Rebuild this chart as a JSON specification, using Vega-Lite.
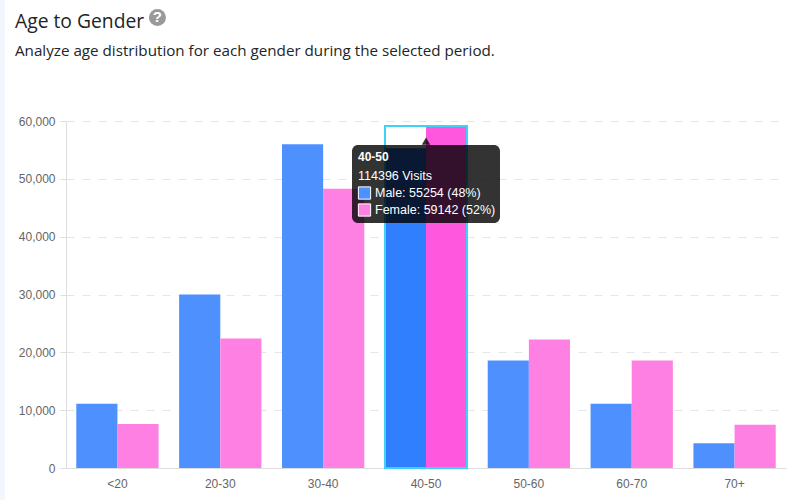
{
"$schema":"https://vega.github.io/schema/vega-lite/v6.json",
"width":720,"height":347,
"autosize":{"type":"none"},
"padding":{"left":66,"top":121,"right":14,"bottom":32},
"background":"#ffffff",
"view":{"stroke":null},
"title":{"text":"Age to Gender","subtitle":"Analyze age distribution for each gender during the selected period.","anchor":"start","frame":"group","dx":-51,"offset":-60,"font":"Open Sans","fontSize":19.3,"fontWeight":"normal","color":"#212529","subtitleFont":"Open Sans","subtitleFontSize":15.2,"subtitleColor":"#212529","subtitlePadding":12},
"datasets":{
"bars":[
{"age":"<20","gender":"Male","visits":11100},{"age":"<20","gender":"Female","visits":7600},
{"age":"20-30","gender":"Male","visits":30000},{"age":"20-30","gender":"Female","visits":22400},
{"age":"30-40","gender":"Male","visits":56000},{"age":"30-40","gender":"Female","visits":48300},
{"age":"40-50","gender":"Male","visits":55254},{"age":"40-50","gender":"Female","visits":59142},
{"age":"50-60","gender":"Male","visits":18600},{"age":"50-60","gender":"Female","visits":22200},
{"age":"60-70","gender":"Male","visits":11100},{"age":"60-70","gender":"Female","visits":18600},
{"age":"70+","gender":"Male","visits":4300},{"age":"70+","gender":"Female","visits":7500}],
"tip":[{"age":"40-50","top":55850,"bottom":42360,"arrow":56500,"hi":59142}],
"lines":[
{"age":"40-50","label":"40-50","pos":53775,"kind":"head"},
{"age":"40-50","label":"114396 Visits","pos":50490,"kind":"total"},
{"age":"40-50","label":"Male: 55254 (48%)","pos":47550,"kind":"series","gender":"Male"},
{"age":"40-50","label":"Female: 59142 (52%)","pos":44610,"kind":"series","gender":"Female"}],
"icon":[{"age":"<20","pos":77900,"q":"?"}],
"strip":[{"age":"<20","top":81000,"bottom":-5800}]
},
"encoding":{
"x":{"field":"age","type":"nominal","sort":["<20","20-30","30-40","40-50","50-60","60-70","70+"],"scale":{"paddingInner":0.2,"paddingOuter":0.1,"domain":["<20","20-30","30-40","40-50","50-60","60-70","70+"]},
"axis":{"title":null,"labelAngle":0,"labelFont":"Liberation Sans","labelFontSize":12,"labelColor":"#666666","labelPadding":10,"domainColor":"#dddddd","ticks":false,"grid":false}}
},
"layer":[
{"data":{"name":"strip"},"mark":{"type":"bar","width":5,"xOffset":-115,"color":"#f4f6fd","clip":false},"encoding":{"y":{"field":"top","type":"quantitative","scale":{"domain":[0,60000],"nice":false,"clamp":false},"axis":{"title":null,"values":[0,10000,20000,30000,40000,50000,60000],"labelExpr":"format(datum.value, ',.0f')","labelFont":"Liberation Sans","labelFontSize":12,"labelColor":"#666666","labelPadding":5,"domainColor":"#dddddd","tickColor":"#dddddd","tickSize":6,"grid":true,"gridColor":"#e6e6e6","gridDash":[8,8]}},"y2":{"field":"bottom"}}},
{"data":{"name":"bars"},"mark":{"type":"bar"},"encoding":{
"xOffset":{"field":"gender","type":"nominal","sort":["Male","Female"],"scale":{"paddingInner":0,"paddingOuter":0}},
"y":{"field":"visits","type":"quantitative"},
"color":{"field":"gender","type":"nominal","legend":null,"scale":{"domain":["Male","Female"],"range":["#4f90ff","#ff80e3"]}}}},
{"data":{"name":"bars"},"transform":[{"filter":"datum.age==='40-50'"}],"mark":{"type":"bar"},"encoding":{
"xOffset":{"field":"gender","type":"nominal","sort":["Male","Female"],"scale":{"paddingInner":0,"paddingOuter":0}},
"y":{"field":"visits","type":"quantitative"},
"fill":{"field":"gender","type":"nominal","legend":null,"scale":{"domain":["Male","Female"],"range":["#2f7fff","#ff57dd"]}}}},
{"data":{"name":"tip"},"mark":{"type":"bar","width":82,"fill":"transparent","stroke":"#3fd2f7","strokeWidth":2},"encoding":{"y":{"field":"hi","type":"quantitative"},"y2":{"datum":0}}},
{"data":{"name":"tip"},"mark":{"type":"point","shape":"triangle-up","filled":true,"size":70,"color":"#000000","opacity":0.8},"encoding":{"y":{"field":"arrow","type":"quantitative"}}},
{"data":{"name":"tip"},"mark":{"type":"bar","width":148,"cornerRadius":6,"color":"#000000","opacity":0.8},"encoding":{"y":{"field":"top","type":"quantitative"},"y2":{"field":"bottom"}}},
{"data":{"name":"lines"},"transform":[{"filter":"datum.kind==='series'"}],"mark":{"type":"square","size":150,"xOffset":-61.5,"strokeWidth":1,"stroke":"#ffffff","opacity":1},"encoding":{"y":{"field":"pos","type":"quantitative"},"color":{"field":"gender","type":"nominal","legend":null}}},
{"data":{"name":"lines"},"transform":[{"filter":"datum.kind==='head'"}],"mark":{"type":"text","align":"left","xOffset":-68,"font":"Liberation Sans","fontSize":12,"fontWeight":"bold","color":"#ffffff"},"encoding":{"y":{"field":"pos","type":"quantitative"},"text":{"field":"label"}}},
{"data":{"name":"lines"},"transform":[{"filter":"datum.kind==='total'"}],"mark":{"type":"text","align":"left","xOffset":-68,"font":"Liberation Sans","fontSize":12.5,"color":"#ffffff"},"encoding":{"y":{"field":"pos","type":"quantitative"},"text":{"field":"label"}}},
{"data":{"name":"lines"},"transform":[{"filter":"datum.kind==='series'"}],"mark":{"type":"text","align":"left","xOffset":-51,"font":"Liberation Sans","fontSize":12.5,"color":"#ffffff"},"encoding":{"y":{"field":"pos","type":"quantitative"},"text":{"field":"label"}}},
{"data":{"name":"icon"},"mark":{"type":"point","shape":"circle","filled":true,"size":290,"color":"#999999","opacity":1,"xOffset":40,"clip":false},"encoding":{"y":{"field":"pos","type":"quantitative"}}},
{"data":{"name":"icon"},"mark":{"type":"text","xOffset":40,"font":"Liberation Sans","fontSize":15,"fontWeight":"bold","color":"#ffffff"},"encoding":{"y":{"field":"pos","type":"quantitative"},"text":{"field":"q"}}}
]
}
